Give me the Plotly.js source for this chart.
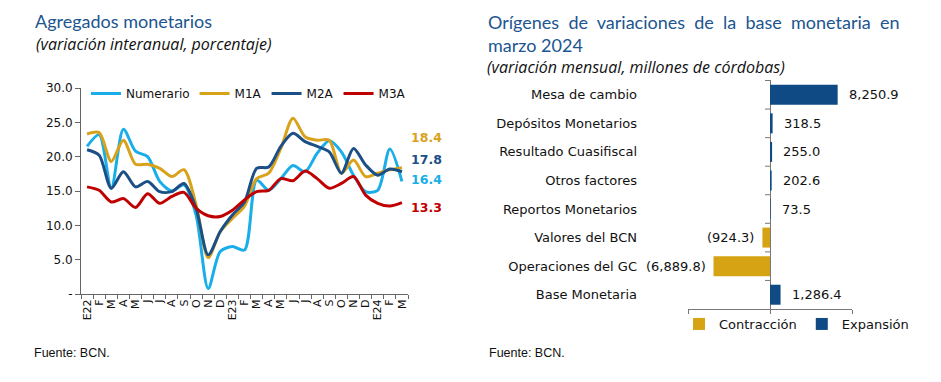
<!DOCTYPE html>
<html><head><meta charset="utf-8">
<script src="https://cdn.plot.ly/plotly-3.0.1.min.js"></script>
<style>html,body{margin:0;padding:0;background:#fff}#chart{width:941px;height:382px}</style>
</head><body><div id="chart"></div>
<script>
// ---- Left chart data: Agregados monetarios (variación interanual, %) ----
const monthLabels = ["E22","F","M","A","M","J","J","A","S","O","N","D","E23","F","M","A","M","J","J","A","S","O","N","D","E24","F","M"];
const numerario = [21.5,23.2,15.4,24.0,20.8,20.0,16.4,15.0,15.9,11.5,0.8,6.2,6.9,6.4,16.6,15.1,16.8,18.7,17.8,20.5,22.3,20.7,17.3,14.9,15.1,21.1,16.4];
const m1a = [23.3,23.5,19.3,22.4,18.9,18.9,18.3,17.1,18.1,13.0,5.3,9.1,11.0,12.8,16.8,17.6,21.2,25.6,22.9,22.4,22.4,17.6,19.5,17.1,17.6,18.1,18.4];
const m2a = [21.0,20.2,15.4,17.8,15.6,16.4,14.9,14.9,16.1,12.5,5.7,9.1,11.5,13.4,18.3,18.5,21.5,23.4,22.2,21.5,20.7,17.6,21.2,18.8,17.3,18.2,17.8];
const m3a = [15.6,15.1,13.4,13.9,12.6,14.6,13.2,14.2,14.8,12.5,11.4,11.3,12.2,13.7,14.9,15.1,16.8,16.5,17.9,16.8,15.4,16.1,17.1,14.4,13.2,12.8,13.3];
const seriesNames = ["Numerario","M1A","M2A","M3A"];
const endLabelText = ["16.4","18.4","17.8","13.3"];
const yTickVals = [0,5,10,15,20,25,30];
const yTickText = ["-","5.0","10.0","15.0","20.0","25.0","30.0"];

// ---- Right chart data: Orígenes de variaciones de la base monetaria ----
const factores = ["Mesa de cambio","Depósitos Monetarios","Resultado Cuasifiscal","Otros factores","Reportos Monetarios","Valores del BCN","Operaciones del GC","Base Monetaria"];
const variacion = [8250.9,318.5,255.0,202.6,73.5,-924.3,-6889.8,1286.4];
const barLegend = ["Contracción","Expansión"];

const W = 941, H = 382;
const px = x => x / W, py = y => 1 - y / H;
const colors = {num:"#19aee9", m1:"#d9a21b", m2:"#1b4f85", m3:"#c00000", pos:"#0f4a84", neg:"#d6a314", title:"#20558f"};
const font = "DejaVu Sans, Verdana, sans-serif";
const titleFont = "Lato, Open Sans, sans-serif";
const subFont = "Open Sans, Lato, sans-serif";

const xs = monthLabels.map((_, i) => i);
const lineSeries = [numerario, m1a, m2a, m3a];
const lineColors = [colors.num, colors.m1, colors.m2, colors.m3];
const traces = lineSeries.map((vals, k) => ({
  type: "scatter", mode: "lines", x: xs, y: vals, name: seriesNames[k],
  line: {color: lineColors[k], width: 3, shape: "spline", smoothing: 0.8},
  xaxis: "x", yaxis: "y", legend: "legend", hoverinfo: "skip"
}));

const negY = [], negX = [], posY = [], posX = [];
factores.forEach((f, i) => {
  if (variacion[i] < 0) { negY.push(f); negX.push(variacion[i]); }
  else { posY.push(f); posX.push(variacion[i]); }
});
traces.push({type:"bar", orientation:"h", x: negX, y: negY, name: barLegend[0],
  marker:{color: colors.neg}, xaxis:"x2", yaxis:"y2", legend:"legend2", hoverinfo:"skip"});
traces.push({type:"bar", orientation:"h", x: posX, y: posY, name: barLegend[1],
  marker:{color: colors.pos}, xaxis:"x2", yaxis:"y2", legend:"legend2", hoverinfo:"skip"});

function fmt(v) {
  const s = Math.abs(v).toLocaleString("en-US", {minimumFractionDigits:1, maximumFractionDigits:1});
  return v < 0 ? "(" + s + ")" : s;
}

const annotations = [];
const addText = (text, x, y, size, color, fam) => annotations.push({
  text, xref:"paper", yref:"paper", x: px(x), y: py(y), xanchor:"left", yanchor:"middle",
  showarrow:false, font:{family: fam || titleFont, size, color}});
addText("Agregados monetarios", 33, 21, 18, colors.title);
addText("<i>(variación interanual, porcentaje)</i>", 34, 44, 16, "#111", subFont);
addText("Orígenes  de  variaciones  de  la  base  monetaria  en", 486, 22, 18, colors.title);
addText("marzo 2024", 486, 45, 18, colors.title);
addText("<i>(variación mensual, millones de córdobas)</i>", 485, 67, 16, "#111", subFont);
const srcFam = "Liberation Sans Narrow, Liberation Sans, sans-serif";
addText("Fuente: BCN.", 32, 353, 12.5, "#111", srcFam);
addText("Fuente: BCN.", 487, 353, 12.5, "#111", srcFam);

// End labels for the lines (placed beside the last point, spread to avoid overlap)
const endShift = [2, 30, 12, -5];
lineSeries.forEach((a, k) => annotations.push({
  text: "<b>" + endLabelText[k] + "</b>", xref:"x", yref:"y", x: xs[xs.length-1], y: a[a.length-1],
  xanchor:"left", yanchor:"middle", xshift: 7, yshift: endShift[k], showarrow:false,
  font:{family: font, size: 12.5, color: lineColors[k]}
}));

// Bar value labels
factores.forEach((f, i) => {
  const v = variacion[i];
  annotations.push({text: fmt(v), xref:"x2", yref:"y2", x: v, y: f,
    xanchor: v < 0 ? "right" : "left", yanchor:"middle", xshift: v < 0 ? -6 : 9,
    showarrow:false, font:{family: font, size: 13, color:"#111"}});
});

// Category boundary ticks on the zero line
const shapes = [];
for (let i = 0; i < factores.length; i++) {
  shapes.push({type:"line", xref:"x2", yref:"y2", xsizemode:"pixel", xanchor:0,
    x0:-5, x1:0, y0: i - 0.5, y1: i - 0.5, line:{color:"#777", width:1}});
}

const layout = {
  width: W, height: H, margin:{l:0,r:0,t:0,b:0}, paper_bgcolor:"#fff", plot_bgcolor:"rgba(0,0,0,0)",
  font:{family: font, size:12, color:"#111"},
  xaxis:{domain:[px(81), px(408)], range:[-0.5, 26.5], tickmode:"array", tickvals: xs, ticktext: monthLabels,
    tickangle:-90, ticks:"", showline:true, linecolor:"#666", linewidth:1, showgrid:false, zeroline:false,
    tickfont:{size:11, family: font, color:"#111"}, anchor:"y",
    minor:{tick0:-0.5, dtick:1, ticks:"outside", ticklen:4, tickcolor:"#666", showgrid:false}},
  yaxis:{domain:[py(294), py(88)], range:[0,30], tickmode:"array", tickvals: yTickVals, ticktext: yTickText,
    ticks:"outside", ticklen:5, tickcolor:"#666", showline:true, linecolor:"#666", showgrid:false, zeroline:false,
    tickfont:{size:12, family: font, color:"#111"}, anchor:"x"},
  xaxis2:{domain:[px(688), px(852)], range:[-10000,10000], tickmode:"array", tickvals:[-10000,0,10000],
    showticklabels:false, ticks:"outside", ticklen:4, tickcolor:"#777", showline:true, linecolor:"#777",
    showgrid:false, zeroline:true, zerolinecolor:"#777", zerolinewidth:1, anchor:"y2"},
  yaxis2:{domain:[py(309), py(80)], type:"category", categoryorder:"array", categoryarray: factores,
    autorange:"reversed", showline:false, ticks:"", showgrid:false, zeroline:false, ticklabelstandoff: 50,
    tickfont:{size:13, family: font, color:"#111"}, anchor:"x2"},
  barmode:"relative", bargap:0.3,
  showlegend:true,
  legend:{orientation:"h", x: px(86), y: py(79), xanchor:"left", yanchor:"top", bgcolor:"rgba(0,0,0,0)",
    font:{size:12, family: font, color:"#111"}, traceorder:"normal"},
  legend2:{orientation:"h", x: px(679), y: py(309), xanchor:"left", yanchor:"top", bgcolor:"rgba(0,0,0,0)",
    font:{size:13, family: font, color:"#111"}, itemwidth:30},
  annotations, shapes
};

Plotly.newPlot("chart", traces, layout, {staticPlot:true, displayModeBar:false});
</script></body></html>
